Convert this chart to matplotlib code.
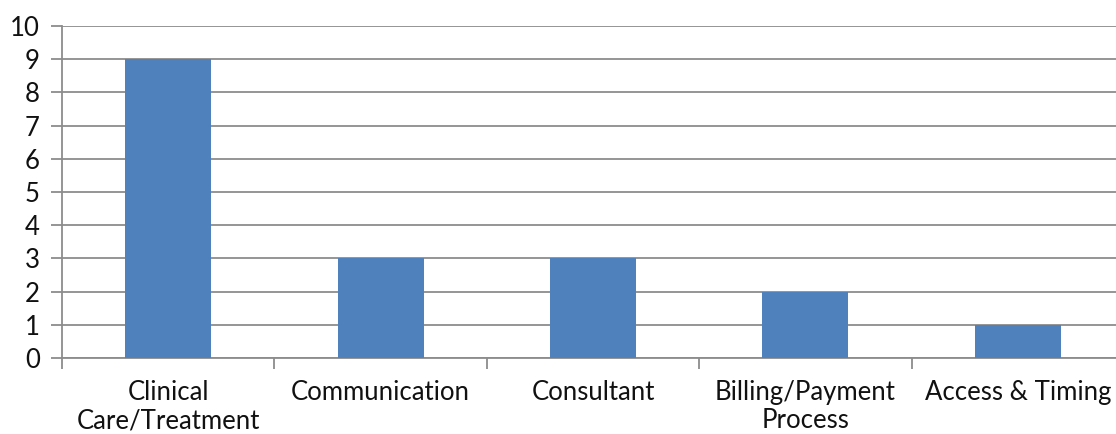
import matplotlib.pyplot as plt

categories = ["Clinical\nCare/Treatment", "Communication", "Consultant",
              "Billing/Payment\nProcess", "Access & Timing"]
counts = [9, 3, 3, 2, 1]

plt.rcParams["font.family"] = ["Lato", "DejaVu Sans"]

W, H = 1116, 434
fig = plt.figure(figsize=(W / 100, H / 100), dpi=100)
# plot area: left axis at x=62, categories 212.5 px apart, y 0..10 from 358 to 26 px
left, right = 62, 62 + 5 * 212.4
top, bottom = 26, 358
ax = fig.add_axes([left / W, 1 - bottom / H, (right - left) / W, (bottom - top) / H])

x = range(len(categories))
ax.bar(x, counts, width=0.405, color="#4F81BD", zorder=3)

ax.set_xlim(-0.5, len(categories) - 0.5)
ax.set_ylim(0, 10)
ax.set_yticks(range(0, 11))
ax.yaxis.grid(True, color="#8C8C8C", linewidth=1.3, zorder=0)

# category labels between the boundary ticks
ax.set_xticks([i - 0.5 for i in range(len(categories) + 1)])
ax.set_xticklabels([])
ax.set_xticks(list(x), minor=True)
ax.set_xticklabels(categories, minor=True, fontsize=18.5, color="#111111",
                   linespacing=1.15)
ax.tick_params(axis="x", which="minor", length=0, pad=16)
ax.tick_params(axis="x", which="major", length=8, width=1.3, color="#8C8C8C")
ax.tick_params(axis="y", length=8, width=1.3, color="#8C8C8C", labelsize=18.5,
               labelcolor="#111111", pad=8)

for side in ["top", "right"]:
    ax.spines[side].set_visible(False)
for side in ["left", "bottom"]:
    ax.spines[side].set_color("#8C8C8C")
    ax.spines[side].set_linewidth(1.3)

fig.savefig("out.png", dpi=100)
